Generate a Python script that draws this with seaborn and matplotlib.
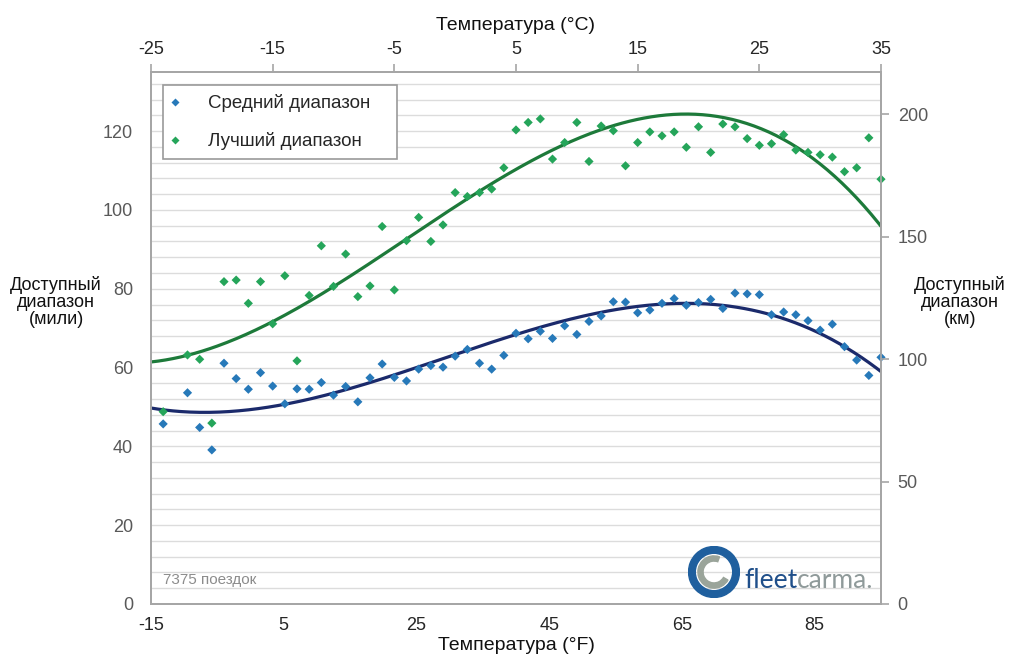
import numpy as np
import pandas as pd
import matplotlib
matplotlib.use("Agg")
import matplotlib.pyplot as plt
from matplotlib import font_manager
from matplotlib.patches import Wedge
import seaborn as sns

# ---- data: available range per temperature (°C), in miles ----
temp_c = [-24, -22, -21, -20, -19, -18, -17, -16, -15, -14, -13, -12, -11, -10,
          -9, -8, -7, -6, -5, -4, -3, -2, -1, 0, 1, 2, 3, 4, 5, 6, 7, 8, 9,
          10, 11, 12, 13, 14, 15, 16, 17, 18, 19, 20, 21, 22, 23, 24, 25, 26,
          27, 28, 29, 30, 31, 32, 33, 34, 35]

avg_range = [45.7, 53.6, 44.8, 39.1, 61.1, 57.2, 54.5, 58.7, 55.3, 50.8, 54.6,
             54.5, 56.2, 53.0, 55.2, 51.3, 57.4, 60.9, 57.5, 56.6, 59.6, 60.5,
             60.1, 62.9, 64.6, 61.1, 59.6, 63.1, 68.7, 67.3, 69.2, 67.4, 70.6,
             68.4, 71.7, 73.1, 76.7, 76.6, 73.9, 74.6, 76.3, 77.5, 75.8, 76.5,
             77.3, 75.0, 78.9, 78.7, 78.5, 73.4, 74.1, 73.4, 71.9, 69.5, 71.0,
             65.3, 61.9, 58.0, 62.6]

best_range = [48.8, 63.2, 62.1, 45.9, 81.8, 82.2, 76.3, 81.8, 71.1, 83.3, 61.7,
              78.3, 90.9, 80.6, 88.8, 78.0, 80.7, 95.8, 79.7, 92.2, 98.1, 92.0,
              96.2, 104.4, 103.4, 104.4, 105.3, 110.7, 120.3, 122.2, 123.1,
              112.9, 117.1, 122.2, 112.3, 121.3, 120.1, 111.2, 117.1, 119.8,
              118.8, 119.8, 115.9, 121.1, 114.6, 121.8, 121.1, 118.1, 116.4,
              116.8, 119.1, 115.2, 114.6, 114.0, 113.4, 109.7, 110.7, 118.3,
              107.8]

# trend-line values (fitted over all trips) sampled every 5 °C
trend_temp_c = [-25, -20, -15, -10, -5, 0, 5, 10, 15, 20, 25, 30, 35]
avg_trend = [49.5, 48.9, 50.3, 53.6, 57.7, 63.4, 68.9, 72.1, 75.3, 76.5, 74.2, 69.0, 58.7]
best_trend = [61.5, 65.0, 71.3, 81.0, 90.2, 100.4, 111.0, 118.4, 122.7, 123.9, 120.6, 112.0, 95.8]

series_names = ["Средний диапазон", "Лучший диапазон"]
top_ticks_c = [-25, -15, -5, 5, 15, 25, 35]
bottom_ticks_f = [-15, 5, 25, 45, 65, 85]
left_ticks_mi = [0, 20, 40, 60, 80, 100, 120]
right_ticks_km = [0, 50, 100, 150, 200]
trip_note = "7375 поездок"

MI_TO_KM = 1.609344
X_MIN, X_MAX = -25, 35
Y_MAX = 135

# ---- style ----
sns.set_theme(style="white")
installed = {f.name for f in font_manager.fontManager.ttflist}
narrow = "Liberation Sans Narrow" if "Liberation Sans Narrow" in installed else "Liberation Sans"
plt.rcParams["font.family"] = ["Liberation Sans", "DejaVu Sans"]

point_colors = {series_names[0]: "#2779b9", series_names[1]: "#25a55a"}
trend_colors = {series_names[0]: "#1b2a6b", series_names[1]: "#1d7a3a"}
axis_gray = "#a6a6a6"
label_gray = "#595959"

df = pd.DataFrame({
    "temp": temp_c * 2,
    "range": avg_range + best_range,
    "series": [series_names[0]] * len(temp_c) + [series_names[1]] * len(temp_c),
})

# third-order polynomial trendline through the sampled trend values
grid = np.linspace(X_MIN, X_MAX, 300)
trend_frames = []
for name, vals in zip(series_names, [avg_trend, best_trend]):
    coef = np.polyfit(trend_temp_c, vals, 3)
    trend_frames.append(pd.DataFrame({"temp": grid, "range": np.polyval(coef, grid),
                                      "series": name}))
trend = pd.concat(trend_frames, ignore_index=True)

fig = plt.figure(figsize=(10.11, 6.57), dpi=100)
ax = fig.add_axes([151 / 1011, 1 - 604 / 657, 730 / 1011, 532 / 657])

ax.set_yticks(np.arange(0, Y_MAX + 1, 4), minor=True)
ax.grid(which="both", axis="y", color="#dcdcdc", lw=1.0)
ax.set_axisbelow(True)

sns.lineplot(data=trend, x="temp", y="range", hue="series", palette=trend_colors,
             lw=2.3, legend=False, ax=ax, zorder=2)
sns.scatterplot(data=df, x="temp", y="range", hue="series", palette=point_colors,
                marker="D", s=22, edgecolor="none", ax=ax, zorder=3, clip_on=False)

ax.set_xlim(X_MIN, X_MAX)
ax.set_ylim(0, Y_MAX)

for side in ["left", "right", "top", "bottom"]:
    ax.spines[side].set_color(axis_gray)
    ax.spines[side].set_linewidth(1.3)

# top axis: Celsius
ax.xaxis.tick_top()
ax.xaxis.set_label_position("top")
ax.set_xticks(top_ticks_c)
ax.set_xticklabels([str(t) for t in top_ticks_c], fontfamily=narrow, fontsize=13, color="#262626")
ax.tick_params(axis="x", which="both", direction="out", length=6, width=1.2,
               color=axis_gray, pad=4)
ax.set_xlabel("Температура (°C)", fontfamily=narrow, fontsize=14, color="#111111", labelpad=8)

# bottom axis: Fahrenheit
def c_to_f(c):
    return -15 + (np.asarray(c) - X_MIN) * 110 / 60

def f_to_c(f):
    return X_MIN + (np.asarray(f) + 15) * 60 / 110

sec = ax.secondary_xaxis("bottom", functions=(c_to_f, f_to_c))
sec.set_xticks(bottom_ticks_f)
sec.set_xticklabels([str(t) for t in bottom_ticks_f], fontfamily=narrow, fontsize=13, color="#262626")
sec.tick_params(length=0, pad=9)
sec.spines["bottom"].set_visible(False)
fig.text((151 + 365) / 1011, 1 - 646 / 657, "Температура (°F)", fontfamily=narrow,
         fontsize=14, color="#111111", ha="center", va="center")

# left axis: miles
ax.set_yticks(left_ticks_mi)
ax.set_yticklabels([str(t) for t in left_ticks_mi], fontsize=13, color=label_gray)
ax.tick_params(axis="y", which="major", length=0, pad=13)
ax.tick_params(axis="y", which="minor", length=0)
ax.set_ylabel("")

# right axis: kilometres
ax_r = ax.twinx()
ax_r.set_ylim(0, Y_MAX * MI_TO_KM)
ax_r.set_yticks(right_ticks_km)
ax_r.set_yticklabels([str(t) for t in right_ticks_km], fontsize=13, color=label_gray)
ax_r.tick_params(axis="y", direction="out", length=6, width=1.2, color=axis_gray, pad=6)
for side in ["left", "right", "top", "bottom"]:
    ax_r.spines[side].set_color(axis_gray)
    ax_r.spines[side].set_linewidth(1.3)
ax_r.grid(False)

fig.text(56 / 1011, 1 - 302 / 657, "Доступный\nдиапазон\n(мили)", ha="center", va="center",
         ma="center", fontsize=13, color="#111111", linespacing=1.0)
fig.text(960 / 1011, 1 - 302 / 657, "Доступный\nдиапазон\n(км)", ha="center", va="center",
         ma="center", fontsize=13, color="#111111", linespacing=1.0)

# legend
handles, labels = ax.get_legend_handles_labels()
leg = ax.legend(handles, labels, loc="upper left",
                bbox_to_anchor=(12 / 730, (604 - 160) / 532, 234 / 730, 75 / 532),
                mode="expand", frameon=True, fancybox=False, edgecolor="#9a9a9a",
                framealpha=1, fontsize=13.5, labelspacing=1.05, handlelength=0.3,
                handletextpad=1.6, borderpad=0.5, borderaxespad=0, markerscale=0.8)
leg.get_frame().set_linewidth(1.2)
leg.set_zorder(5)

# trip count note
ax.text(0.016, 0.045, trip_note, transform=ax.transAxes, fontsize=11, color="#8c8c8c",
        ha="left", va="center")

# fleetcarma logo
logo = fig.add_axes([688 / 1011, 1 - 598 / 657, 52 / 1011, 52 / 657])
logo.set_xlim(-1, 1)
logo.set_ylim(-1, 1)
logo.set_aspect("equal")
logo.axis("off")
logo.add_patch(Wedge((0, 0), 0.98, 0, 360, width=0.26, color="#1f5f9e"))
logo.add_patch(Wedge((0, 0), 0.62, 70, 330, width=0.2, color="#9aa49a"))
t1 = fig.text(744 / 1011, 1 - 588 / 657, "fleet", fontsize=19, color="#1f4f8a",
              ha="left", va="baseline", family=["Lato", "Liberation Sans"])
fig.canvas.draw()
bb = t1.get_window_extent()
fig.text(bb.x1 / fig.bbox.width, 1 - 588 / 657, "carma.", fontsize=19, color="#8f9a9a",
         ha="left", va="baseline", family=["Lato", "Liberation Sans"])

fig.savefig("out.png", dpi=100)
